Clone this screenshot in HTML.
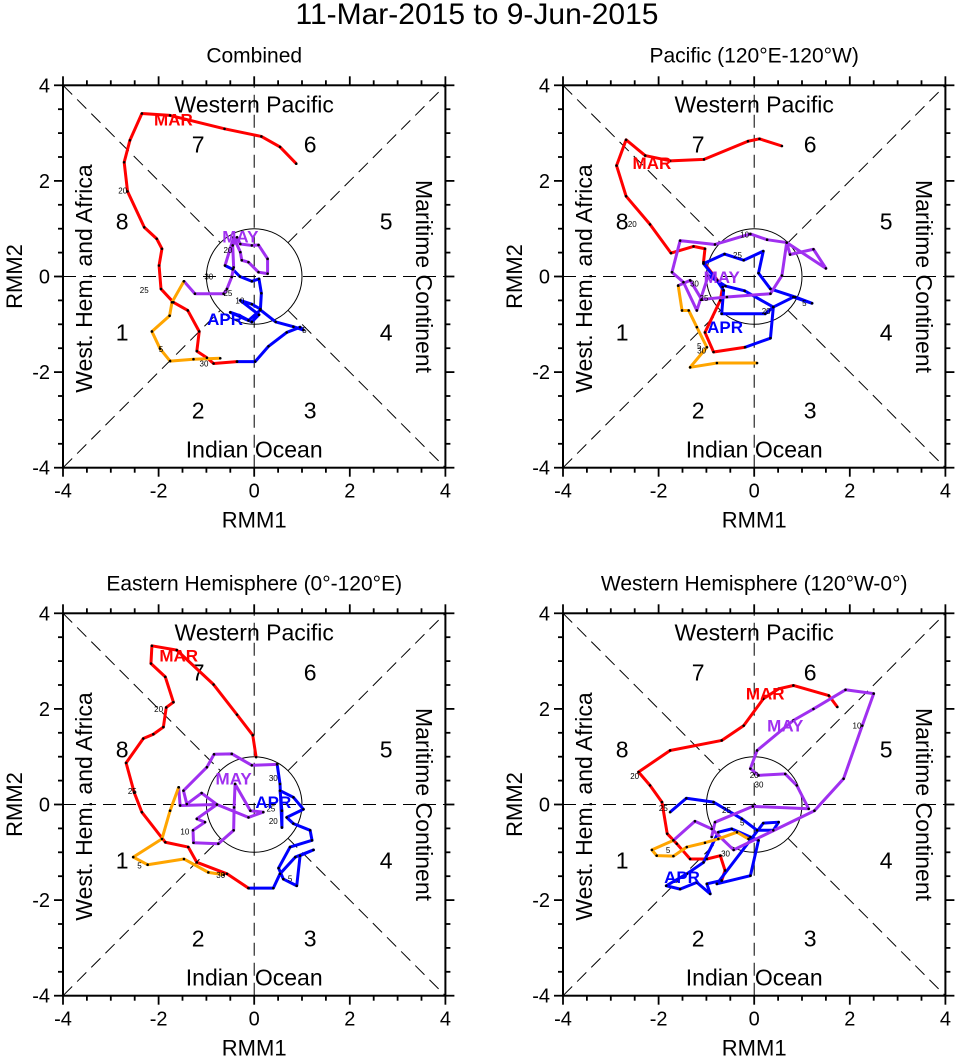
<!DOCTYPE html>
<html><head><meta charset="utf-8"><style>
html,body{margin:0;padding:0;background:#fff;}
svg{display:block;font-family:"Liberation Sans",Arial,sans-serif;}
</style></head><body>
<svg id="root" width="956" height="1057" viewBox="0 0 956 1057" xmlns="http://www.w3.org/2000/svg">
<text x="477" y="24" font-size="30" text-anchor="middle">11-Mar-2015 to 9-Jun-2015</text>
</svg>
<script>
// ---- data (RMM1, RMM2) ----
const axisTicks = [-4, -2, 0, 2, 4];
const tickLabels = ["-4", "-2", "0", "2", "4"];
const panelTitles = ["Combined", "Pacific (120°E-120°W)", "Eastern Hemisphere (0°-120°E)", "Western Hemisphere (120°W-0°)"];
const monthNames = ["MAR", "APR", "MAY", "JUN"];
const monthColors = ["#ff0000", "#0000ff", "#a030f0", "#ffa500"];

const p1Mar = [[0.88,2.36],[0.54,2.71],[0.15,2.93],[-0.62,3.09],[-1.76,3.37],[-2.35,3.41],[-2.60,2.85],[-2.72,2.39],[-2.65,1.78],[-2.30,1.03],[-2.04,0.79],[-1.93,0.58],[-1.99,0.23],[-1.95,-0.26],[-1.69,-0.54],[-1.39,-0.71],[-1.15,-1.15],[-1.20,-1.56],[-0.99,-1.70],[-0.85,-1.82],[-0.36,-1.78]];
const p1Apr = [[-0.36,-1.78],[0.02,-1.78],[0.30,-1.46],[0.68,-1.17],[0.96,-1.06],[1.03,-1.12],[0.82,-1.05],[0.45,-0.95],[0.13,-0.70],[-0.12,-0.92],[-0.50,-0.75],[-0.30,-0.82],[-0.05,-0.95],[0.10,-0.80],[-0.29,-0.50],[-0.05,-0.58],[0.13,-0.68],[0.15,-0.35],[0.10,-0.05],[-0.05,-0.10],[-0.30,0.0],[-0.45,0.15],[-0.61,0.23]];
const p1May = [[-0.61,0.23],[-0.43,0.82],[-0.29,0.51],[-0.26,0.34],[-0.12,0.30],[0.09,0.09],[0.28,0.06],[0.28,0.37],[0.09,0.66],[-0.05,0.65],[-0.29,0.68],[-0.36,0.82],[-0.45,0.65],[-0.43,0.19],[-0.47,-0.01],[-0.57,-0.26],[-0.64,-0.36],[-1.24,-0.36],[-1.47,-0.10]];
const p1Jun = [[-1.47,-0.10],[-1.72,-0.54],[-1.77,-0.82],[-2.14,-1.15],[-1.97,-1.51],[-1.76,-1.77],[-1.27,-1.73],[-0.71,-1.71]];

const p2Mar = [[0.58,2.73],[0.11,2.88],[-0.13,2.83],[-1.05,2.45],[-1.76,2.42],[-2.28,2.53],[-2.68,2.86],[-2.88,2.32],[-2.68,1.68],[-2.18,1.09],[-1.74,0.49],[-1.27,0.63],[-1.03,0.58],[-1.06,0.30],[-0.66,-0.22],[-0.71,-0.50],[-1.03,-1.17],[-0.85,-1.58],[-0.19,-1.48]];
const p2Apr = [[-0.19,-1.48],[0.34,-1.29],[0.40,-0.64],[0.82,-0.43],[1.21,-0.56],[0.86,-0.43],[0.34,-0.26],[0.09,0.07],[0.19,0.53],[-0.22,0.34],[-0.62,0.47],[-1.06,0.27],[-0.78,-0.08],[-0.64,-0.29],[-0.68,-0.78],[0.23,-0.78],[0.40,-0.64],[-0.2,-0.3],[-0.6,-0.2],[-0.96,0.02]];
const p2May = [[-0.96,0.02],[-1.20,-0.71],[-1.48,-0.12],[-1.72,0.09],[-1.55,0.75],[-0.82,0.67],[-0.08,0.89],[0.27,0.77],[0.68,0.71],[0.75,0.46],[1.24,0.57],[1.50,0.17],[0.68,0.71],[0.58,0.02],[0.34,-0.36],[-0.57,-0.43],[-1.10,-0.48],[-1.34,-0.08],[-1.59,-0.19]];
const p2Jun = [[-1.59,-0.19],[-1.51,-0.71],[-1.37,-0.71],[-1.20,-1.06],[-0.99,-1.48],[-1.34,-1.90],[-0.78,-1.81],[0.06,-1.81]];

const p3Mar = [[0.04,0.99],[-0.03,1.45],[-0.36,1.88],[-0.85,2.51],[-1.62,3.23],[-2.14,3.32],[-2.16,2.95],[-1.86,2.67],[-1.69,2.14],[-1.84,2.03],[-1.90,1.62],[-2.11,1.47],[-2.32,1.38],[-2.68,0.87],[-2.51,0.25],[-2.35,-0.16],[-1.86,-0.79],[-1.38,-0.89],[-1.20,-1.21],[-0.57,-1.45],[-0.12,-1.75]];
const p3Apr = [[-0.12,-1.75],[0.40,-1.75],[0.54,-1.45],[0.86,-1.10],[1.24,-0.95],[0.96,-1.07],[0.89,-1.70],[0.61,-1.56],[0.51,-1.33],[0.75,-0.89],[1.21,-0.75],[1.17,-0.54],[0.82,-0.40],[0.68,-0.27],[1.03,-0.10],[0.82,0.15],[0.54,0.29],[0.58,-0.13],[0.58,-0.48],[0.54,0.43],[0.48,0.84]];
const p3May = [[0.48,0.84],[-0.05,0.82],[-0.47,1.06],[-0.84,1.05],[-0.99,0.78],[-1.48,0.29],[-1.41,0.01],[-1.10,0.24],[-0.78,0.00],[-1.20,-0.30],[-1.03,-0.37],[-1.28,-0.54],[-1.27,-0.80],[-0.75,-0.82],[-0.43,-0.54],[-0.42,-0.06],[-0.40,0.43],[-0.08,-0.13],[0.19,-0.16],[-0.12,-0.27],[-0.78,0.00],[-1.55,-0.02],[-1.58,0.36]];
const p3Jun = [[-1.58,0.36],[-1.76,-0.13],[-1.93,-0.72],[-2.53,-1.10],[-2.23,-1.26],[-1.47,-1.14],[-0.96,-1.42],[-0.64,-1.47]];

const p4Mar = [[1.74,2.04],[1.56,2.28],[0.82,2.49],[0.51,2.42],[0.19,2.21],[-0.22,1.65],[-0.68,1.34],[-1.76,1.13],[-2.42,0.68],[-2.18,0.40],[-1.93,0.05],[-1.82,-0.61],[-1.62,-0.82],[-1.34,-1.14],[-0.99,-1.14],[-0.71,-1.07],[-0.61,-1.38],[-0.68,-1.59]];
const p4Apr = [[-0.68,-1.59],[-0.99,-1.66],[-0.92,-1.87],[-1.20,-1.63],[-1.55,-1.77],[-1.84,-1.70],[-1.41,-1.45],[-1.06,-1.21],[-0.75,-0.58],[-0.47,-0.51],[-0.08,-0.68],[0.09,-0.75],[-0.08,-1.49],[-0.78,-1.66],[0.19,-0.39],[0.51,-0.37],[0.40,-0.54],[0.06,-0.54],[-0.26,-0.30],[-0.85,0.05],[-1.42,0.13],[-1.76,-0.16]];
const p4May = [[-0.89,-0.68],[-0.82,-0.37],[-0.03,-0.04],[1.14,-0.09],[0.89,0.40],[0.65,0.64],[0.09,0.61],[-0.08,0.75],[0.06,1.13],[0.82,1.76],[1.24,2.00],[1.91,2.40],[2.50,2.32],[2.26,1.65],[1.87,0.54],[1.26,-0.13],[-0.43,-0.95],[-0.89,-0.51],[-1.24,-0.35],[-1.69,-0.75]];
const p4Jun = [[-1.69,-0.75],[-2.14,-0.95],[-2.04,-1.07],[-1.69,-1.08],[-1.41,-0.89],[-1.03,-0.80],[-0.75,-0.72],[-0.36,-0.58],[-0.12,-0.72]];

const monthLabelPos = [
  [[-1.69,3.28],[-0.61,-0.89],[-0.29,0.84]],
  [[-2.14,2.37],[-0.61,-1.06],[-0.68,-0.01]],
  [[-1.58,3.12],[0.40,0.05],[-0.43,0.54]],
  [[0.23,2.32],[-1.51,-1.52],[0.65,1.65]]
];
const dayLabelText = ["20","25","30","5","10","20","25","30","5"];
const dayLabelPos = [
  [[-2.75,1.80],[-2.30,-0.28],[-1.05,-1.82],[1.05,-1.12],[-0.30,-0.50],[-0.55,0.55],[-0.55,-0.35],[-0.95,0.00],[-1.95,-1.52]],
  [[-2.55,1.10],[-0.35,0.45],[-1.10,-1.55],[1.05,-0.55],[-0.20,0.88],[0.25,-0.72],[-1.05,-0.45],[-1.25,-0.15],[-1.15,-1.45]],
  [[-2.00,2.00],[-2.55,0.28],[-0.70,-1.47],[0.75,-1.55],[-1.45,-0.56],[0.40,-0.34],[0.35,-0.08],[0.40,0.55],[-2.40,-1.28]],
  [[-2.50,0.60],[-1.90,-0.07],[-0.60,-1.02],[-0.25,-0.38],[2.15,1.65],[0.00,0.62],[-0.58,-0.12],[0.10,0.42],[-1.80,-0.95]]
];

const panels = [
  {cx:254.2, cy:276.5, data:[p1Mar,p1Apr,p1May,p1Jun]},
  {cx:754.2, cy:276.5, data:[p2Mar,p2Apr,p2May,p2Jun]},
  {cx:254.2, cy:804.5, data:[p3Mar,p3Apr,p3May,p3Jun]},
  {cx:754.2, cy:804.5, data:[p4Mar,p4Apr,p4May,p4Jun]}
];
const S = 47.8;
const NS = "http://www.w3.org/2000/svg";
const root = document.getElementById('root');
function mk(tag, attrs, parent){
  const e = document.createElementNS(NS, tag);
  for (const k in attrs) e.setAttribute(k, attrs[k]);
  (parent||root).appendChild(e);
  return e;
}
panels.forEach((p, pi) => {
  const X = v => p.cx + v*S;
  const Y = v => p.cy - v*S;
  const g = mk('g', {});
  
  
  const t = mk('text', {x:p.cx, y:p.cy-214, 'font-size':21, 'text-anchor':'middle'}, g);
  t.textContent = panelTitles[pi];
  
  
  const dash = {stroke:'#000','stroke-width':1,'stroke-dasharray':'13 7',fill:'none'};
  const r = 1/Math.SQRT2;
  const guides = [[-4,0,4,0],[0,-4,0,4],[-4,4,-r,r],[r,-r,4,-4],[-4,-4,-r,-r],[r,r,4,4]];
  guides.forEach(l => {
    const ln = mk('line', Object.assign({x1:X(l[0]),y1:Y(l[1]),x2:X(l[2]),y2:Y(l[3])}, dash), g);
    
    
  });
  const c = mk('circle', {cx:p.cx, cy:p.cy, r:S, fill:'none', stroke:'#000', 'stroke-width':1}, g);
  
  
  for (let v=-4; v<=4.001; v+=0.5) {
    const major = Math.abs(v/2 - Math.round(v/2)) < 1e-6;
    const L = major ? 9 : 5;
    [[X(v),Y(-4),X(v),Y(-4)+L],[X(v),Y(4),X(v),Y(4)-L],[X(-4),Y(v),X(-4)-L,Y(v)],[X(4),Y(v),X(4)+L,Y(v)]].forEach(a=>{
      const tk = mk('line',{x1:a[0],y1:a[1],x2:a[2],y2:a[3],stroke:'#000','stroke-width':1.8},g);
      
      
    });
  }
  const box = mk('rect',{x:X(-4),y:Y(4),width:8*S,height:8*S,fill:'none',stroke:'#000','stroke-width':2},g);
  
  
  axisTicks.forEach((v,i)=>{
    const tx = mk('text',{x:X(v),y:Y(-4)+30,'font-size':20,'text-anchor':'middle'},g);
    tx.textContent = tickLabels[i];
    
    
    const ty = mk('text',{x:X(-4)-13,y:Y(v)+7,'font-size':20,'text-anchor':'end'},g);
    ty.textContent = tickLabels[i];
    
    
  });
  const xl = mk('text',{x:p.cx,y:p.cy+251,'font-size':22,'text-anchor':'middle'},g);
  xl.textContent='RMM1';
  
  
  const yl = mk('text',{x:0,y:0,'font-size':22,'text-anchor':'middle',transform:`translate(${p.cx-232},${p.cy}) rotate(-90)`},g);
  yl.textContent='RMM2';
  
  
  const regs = [['Western Pacific',p.cx,p.cy-164,0],['Indian Ocean',p.cx,p.cy+181,0],['West. Hem. and Africa',p.cx-162,p.cy+2,-90],['Maritime Continent',p.cx+162,p.cy,90]];
  regs.forEach(rg=>{
    const e = mk('text',{x:0,y:0,'font-size':23,'text-anchor':'middle',transform:`translate(${rg[1]},${rg[2]}) rotate(${rg[3]})`},g);
    e.textContent = rg[0];
    
    
  });
  const phases = [['1',-132,64],['2',-56,142],['3',56,142],['4',132,64],['5',132,-47],['6',56,-124],['7',-56,-124],['8',-132,-47]];
  phases.forEach(ph=>{
    const e = mk('text',{x:p.cx+ph[1],y:p.cy+ph[2],'font-size':23,'text-anchor':'middle'},g);
    e.textContent = ph[0];
    
    
  });
  p.data.forEach((arr, mi)=>{
    const pl = mk('polyline',{points:arr.map(q=>X(q[0])+','+Y(q[1])).join(' '),fill:'none',stroke:monthColors[mi],'stroke-width':3,'stroke-linejoin':'round'},g);
    
    
  });
  p.data.forEach(arr=>{
    arr.forEach(q=>{
      const d = mk('circle',{cx:X(q[0]),cy:Y(q[1]),r:1.3,fill:'#000'},g);
      
      
    });
  });
  dayLabelPos[pi].forEach((q,i)=>{
    const e = mk('text',{x:X(q[0]),y:Y(q[1])+3,'font-size':8,'text-anchor':'middle'},g);
    e.textContent = dayLabelText[i];
    
    
  });
  monthLabelPos[pi].forEach((q,i)=>{
    const e = mk('text',{x:X(q[0]),y:Y(q[1])+6,'font-size':17,'font-weight':'bold',fill:monthColors[i],'text-anchor':'middle'},g);
    e.textContent = monthNames[i];
    
    
  });
});
</script>
</body></html>
